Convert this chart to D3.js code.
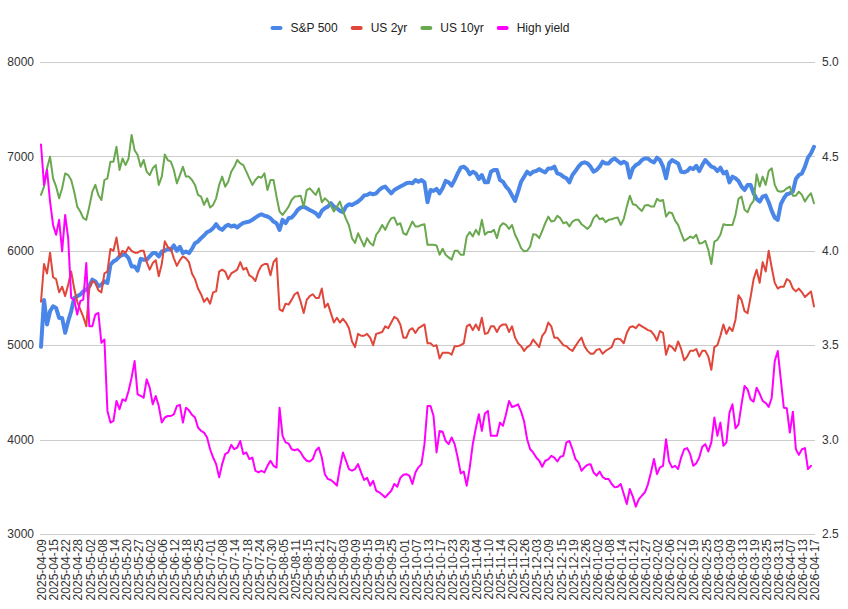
<!DOCTYPE html>
<html><head><meta charset="utf-8">
<script src="https://cdn.jsdelivr.net/npm/d3@7"></script>
<style>
body{margin:0;background:#fff;}
svg{display:block;font-family:Arial,"Liberation Sans",sans-serif;}
</style>
</head><body>
<svg id="chart" width="848" height="609"></svg>
<script>
// ---------- DATA ----------
const startDate = "2025-04-09";
const endDate = "2026-04-17";
const marketHolidays = ["2025-04-18","2025-05-26","2025-06-19","2025-07-04","2025-09-01","2025-11-27","2025-12-25","2026-01-01","2026-01-19","2026-02-16","2026-04-03"];
const seriesNames = ["S&P 500","US 2yr","US 10yr","High yield"];
const leftTicks = [3000,4000,5000,6000,7000,8000];
const rightTicks = [2.5,3.0,3.5,4.0,4.5,5.0];

const sp500 = [
4983,5480,5219,5360,5412,5395,5289,5289,5131,5254,
5360,5500,5518,5536,5571,5588,5624,5694,5676,5624,
5641,5676,5659,5852,5888,5905,5940,5958,5958,5923,
5835,5835,5790,5915,5905,5905,5940,5976,5976,5940,
5993,6000,6021,6011,6057,6000,6043,5976,5993,5976,
6021,6081,6099,6134,6162,6197,6212,6240,6282,6240,
6222,6257,6275,6257,6268,6247,6275,6296,6303,6310,
6328,6352,6373,6387,6373,6363,6345,6310,6292,6222,
6328,6292,6345,6352,6387,6433,6458,6468,6451,6433,
6416,6398,6363,6423,6451,6468,6504,6468,6451,6423,
6409,6468,6493,6486,6504,6521,6549,6585,6592,6609,
6599,6609,6644,6669,6680,6644,6609,6644,6662,6680,
6697,6715,6722,6715,6750,6732,6750,6725,6514,6644,
6634,6655,6609,6662,6740,6725,6690,6750,6820,6880,
6891,6866,6810,6838,6820,6761,6803,6725,6725,6838,
6856,6856,6750,6732,6680,6644,6585,6528,6627,6732,
6785,6838,6810,6838,6845,6866,6845,6831,6873,6873,
6891,6820,6810,6785,6768,6725,6803,6845,6891,6926,
6937,6926,6891,6838,6856,6891,6944,6926,6926,6961,
6979,6951,6926,6944,6926,6775,6873,6908,6926,6961,
6979,6979,6951,6937,6986,6961,6891,6768,6926,6961,
6944,6926,6838,6831,6845,6880,6866,6901,6845,6908,
6961,6926,6891,6880,6845,6880,6820,6838,6725,6785,
6768,6740,6680,6644,6697,6697,6609,6549,6521,6574,
6585,6514,6423,6352,6328,6493,6556,6599,6609,6627,
6761,6803,6820,6891,6986,7032,7102];

const us2y = [
3.73,3.93,3.88,3.99,3.86,3.85,3.78,3.81,3.76,3.82,
3.89,3.80,3.73,3.69,3.65,3.60,3.80,3.84,3.83,3.79,
3.78,3.88,3.89,4.01,4.00,4.07,3.97,4.00,3.99,4.02,
4.00,3.99,3.99,4.00,4.00,3.94,3.90,3.935,3.95,3.865,
3.93,4.05,4.02,4.01,3.96,3.92,3.95,3.97,3.96,3.94,
3.88,3.85,3.80,3.77,3.73,3.75,3.72,3.78,3.785,3.89,
3.90,3.89,3.85,3.88,3.89,3.90,3.94,3.90,3.91,3.87,
3.86,3.84,3.89,3.92,3.93,3.93,3.87,3.94,3.96,3.69,
3.68,3.72,3.715,3.74,3.77,3.78,3.73,3.67,3.74,3.76,
3.77,3.75,3.75,3.80,3.70,3.72,3.67,3.62,3.645,3.62,
3.64,3.62,3.59,3.52,3.49,3.56,3.55,3.55,3.56,3.54,
3.50,3.56,3.565,3.57,3.60,3.59,3.62,3.65,3.64,3.61,
3.54,3.54,3.58,3.59,3.565,3.59,3.60,3.61,3.51,3.51,
3.495,3.50,3.43,3.46,3.46,3.46,3.45,3.495,3.495,3.50,
3.51,3.60,3.61,3.58,3.61,3.58,3.645,3.56,3.565,3.60,
3.60,3.57,3.60,3.61,3.61,3.57,3.60,3.54,3.51,3.495,
3.47,3.49,3.50,3.53,3.51,3.49,3.55,3.57,3.62,3.60,
3.54,3.54,3.52,3.50,3.495,3.48,3.47,3.495,3.52,3.54,
3.495,3.47,3.455,3.455,3.475,3.48,3.455,3.47,3.48,3.49,
3.53,3.535,3.53,3.51,3.565,3.595,3.60,3.59,3.61,3.60,
3.59,3.58,3.575,3.555,3.525,3.575,3.565,3.45,3.50,3.49,
3.47,3.52,3.48,3.42,3.44,3.47,3.47,3.48,3.44,3.47,
3.47,3.44,3.37,3.49,3.50,3.55,3.61,3.56,3.595,3.575,
3.635,3.765,3.74,3.68,3.67,3.755,3.85,3.90,3.83,3.94,
3.89,4.00,3.91,3.83,3.80,3.81,3.81,3.85,3.84,3.80,
3.785,3.80,3.78,3.755,3.77,3.785,3.705];

const us10y = [
4.296,4.34,4.437,4.498,4.384,4.34,4.278,4.331,4.41,4.401,
4.375,4.313,4.234,4.208,4.173,4.164,4.234,4.313,4.349,4.296,
4.269,4.375,4.384,4.472,4.472,4.551,4.428,4.489,4.454,4.489,
4.613,4.533,4.507,4.445,4.481,4.419,4.401,4.437,4.454,4.349,
4.393,4.51,4.48,4.472,4.428,4.357,4.401,4.445,4.393,4.393,
4.375,4.349,4.296,4.287,4.243,4.278,4.229,4.243,4.278,4.349,
4.393,4.34,4.366,4.419,4.445,4.481,4.463,4.454,4.419,4.384,
4.349,4.375,4.393,4.387,4.41,4.322,4.375,4.375,4.287,4.208,
4.19,4.211,4.234,4.269,4.287,4.289,4.292,4.234,4.322,4.331,
4.313,4.296,4.331,4.257,4.278,4.264,4.24,4.208,4.234,4.261,
4.211,4.169,4.134,4.067,4.041,4.093,4.058,4.023,4.067,4.041,
4.028,4.085,4.106,4.137,4.111,4.146,4.173,4.176,4.137,4.146,
4.093,4.085,4.12,4.155,4.129,4.129,4.137,4.141,4.032,4.032,
4.032,4.028,3.979,4.011,3.979,3.965,3.953,4.0,4.0,3.979,
3.979,4.076,4.099,4.076,4.111,4.085,4.164,4.085,4.099,4.099,
4.111,4.067,4.129,4.146,4.137,4.116,4.137,4.085,4.053,4.014,
3.997,4.0,4.023,4.088,4.085,4.067,4.106,4.146,4.181,4.155,
4.159,4.185,4.173,4.146,4.152,4.129,4.155,4.164,4.164,4.141,
4.129,4.116,4.134,4.173,4.19,4.167,4.173,4.152,4.164,4.167,
4.173,4.176,4.137,4.169,4.234,4.292,4.247,4.243,4.225,4.211,
4.24,4.243,4.234,4.234,4.275,4.264,4.269,4.181,4.204,4.199,
4.16,4.137,4.093,4.053,4.063,4.076,4.067,4.085,4.039,4.041,
4.053,4.005,3.93,4.049,4.058,4.085,4.141,4.137,4.137,4.137,
4.19,4.275,4.287,4.217,4.204,4.243,4.264,4.405,4.34,4.393,
4.349,4.423,4.437,4.349,4.317,4.313,4.317,4.331,4.34,4.292,
4.292,4.313,4.296,4.261,4.287,4.305,4.252];

const highYield = [
4.563,4.349,4.428,4.261,4.137,4.085,4.164,3.997,4.19,4.067,
3.75,3.741,3.662,3.733,3.741,3.935,3.601,3.601,3.662,3.671,
3.513,3.53,3.152,3.09,3.099,3.205,3.161,3.213,3.205,3.257,
3.328,3.416,3.24,3.231,3.222,3.319,3.275,3.187,3.231,3.178,
3.09,3.117,3.125,3.125,3.134,3.178,3.184,3.09,3.169,3.155,
3.131,3.117,3.064,3.046,3.037,3.011,2.949,2.905,2.87,2.80,
2.87,2.923,2.932,2.972,2.949,2.958,2.993,2.923,2.932,2.897,
2.905,2.835,2.826,2.835,2.826,2.861,2.888,2.861,2.852,3.169,
3.02,2.985,2.979,2.949,2.944,2.949,2.932,2.905,2.888,2.884,
2.897,2.941,2.958,2.905,2.817,2.791,2.786,2.773,2.756,2.853,
2.932,2.888,2.844,2.835,2.844,2.87,2.826,2.786,2.797,2.756,
2.782,2.729,2.721,2.708,2.694,2.712,2.729,2.765,2.75,2.797,
2.814,2.817,2.809,2.765,2.826,2.853,2.87,2.976,3.178,3.178,
3.125,2.932,3.046,3.042,2.993,2.976,3.011,2.976,2.905,2.821,
2.831,2.756,2.853,2.976,3.06,3.134,3.046,3.138,3.152,3.02,
3.02,3.02,3.09,3.073,3.134,3.205,3.173,3.178,3.187,3.148,
3.096,3.002,2.949,2.932,2.905,2.888,2.856,2.888,2.895,2.914,
2.905,2.884,2.909,2.914,2.985,2.993,2.949,2.897,2.879,2.835,
2.853,2.867,2.87,2.826,2.809,2.831,2.802,2.791,2.791,2.765,
2.747,2.75,2.765,2.712,2.659,2.738,2.698,2.645,2.685,2.703,
2.721,2.763,2.826,2.897,2.817,2.853,2.861,3.002,2.884,2.853,
2.861,2.844,2.905,2.949,2.955,2.923,2.861,2.874,2.905,2.962,
2.976,2.937,2.985,3.117,3.02,3.09,2.967,2.985,3.143,3.187,
3.06,3.081,3.187,3.284,3.266,3.213,3.201,3.275,3.243,3.205,
3.194,3.173,3.222,3.416,3.469,3.319,3.169,3.166,3.037,3.148,
2.949,2.919,2.949,2.955,2.844,2.861,null];

// ---------- CATEGORIES (trading days) ----------
function buildDates(){
  const fmt = d3.utcFormat("%Y-%m-%d");
  const out = [];
  let d = new Date(startDate + "T00:00:00Z");
  const end = new Date(endDate + "T00:00:00Z");
  while (d <= end) {
    const wd = d.getUTCDay(), s = fmt(d);
    if (wd !== 0 && wd !== 6 && !marketHolidays.includes(s)) out.push(s);
    d = new Date(d.getTime() + 86400000);
  }
  return out;
}
const dates = buildDates();
const tickLabels = dates.filter((d, i) => i % 4 === 0);

// ---------- STYLES / LAYOUT ----------
const colors = ["#4a86e8", "#e0473a", "#6aa84f", "#ff00ff"];
const widths = [4, 2, 2, 2];
const plot = {left: 40, right: 815, top: 62, bottom: 534};

const svg = d3.select("#chart");
const x = d3.scalePoint().domain(dates).range([41, 814]);
const yL = d3.scaleLinear().domain([3000, 8000]).range([plot.bottom, plot.top]);
const yR = d3.scaleLinear().domain([2.5, 5.0]).range([plot.bottom, plot.top]);

// gridlines
svg.append("g").selectAll("line").data(leftTicks).join("line")
  .attr("x1", plot.left).attr("x2", plot.right)
  .attr("y1", d => Math.round(yL(d)) + 0.5).attr("y2", d => Math.round(yL(d)) + 0.5)
  .attr("stroke", "#cccccc").attr("stroke-width", 1);

// left axis labels
svg.append("g").selectAll("text").data(leftTicks).join("text")
  .attr("x", 34).attr("y", d => yL(d)).attr("dy", "0.35em")
  .attr("text-anchor", "end").attr("font-size", 12).attr("fill", "#333")
  .text(d => d);

// right axis labels
svg.append("g").selectAll("text").data(rightTicks).join("text")
  .attr("x", 822).attr("y", d => yR(d)).attr("dy", "0.35em")
  .attr("text-anchor", "start").attr("font-size", 12).attr("fill", "#333")
  .text(d => d3.format(".1f")(d));

// x labels (rotated)
svg.append("g").selectAll("text").data(tickLabels).join("text")
  .attr("transform", d => `translate(${x(d) + 1},539) rotate(-90)`)
  .attr("dy", "0.35em").attr("text-anchor", "end")
  .attr("font-size", 12).attr("fill", "#333")
  .text(d => d);

// lines
const series = [
  {vals: sp500, y: yL},
  {vals: us2y, y: yR},
  {vals: us10y, y: yR},
  {vals: highYield, y: yR}
];
series.forEach((s, k) => {
  const line = d3.line()
    .defined(v => v != null)
    .x((v, i) => x(dates[i]))
    .y(v => s.y(v));
  svg.append("path").datum(s.vals)
    .attr("d", line).attr("fill", "none")
    .attr("stroke", colors[k]).attr("stroke-width", widths[k])
    .attr("stroke-linejoin", "round").attr("stroke-linecap", "round");
});

// legend
const lg = svg.append("g");
let cx = 0;
const items = [];
seriesNames.forEach((name, k) => {
  const g = lg.append("g");
  g.append("rect").attr("x", cx).attr("y", -2).attr("width", 12).attr("height", 4)
    .attr("rx", 2).attr("fill", colors[k]);
  const t = g.append("text").attr("x", cx + 20).attr("y", 0).attr("dy", "0.35em")
    .attr("font-size", 12).attr("fill", "#222").text(name);
  const w = t.node().getComputedTextLength();
  cx += 20 + w + 13;
});
const totalW = cx - 13;
lg.attr("transform", `translate(${270.5},28)`);
</script>
</body></html>
